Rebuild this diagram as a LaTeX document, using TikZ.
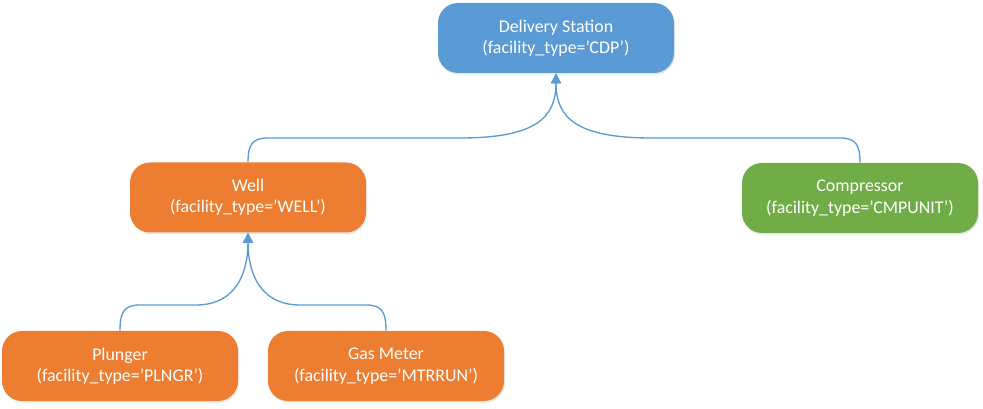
\documentclass[tikz,border=0pt]{standalone}
\usepackage{fontspec}
\setmainfont{Carlito}
\usetikzlibrary{arrows.meta,shadows}
\definecolor{cdpblue}{RGB}{91,155,213}
\definecolor{wellorange}{RGB}{237,125,49}
\definecolor{compgreen}{RGB}{112,173,71}
\begin{document}
\begin{tikzpicture}[x=0.75pt,y=0.75pt,yscale=-1,xscale=1,
  facility/.style={rounded corners=15pt,minimum width=177pt,minimum height=52.5pt,
    draw=none,text=white,align=center,inner sep=0.75pt,
    font=\fontsize{13.4}{16}\selectfont,
    drop shadow={opacity=0.18,shadow xshift=0.8pt,shadow yshift=-1.2pt}},
  link/.style={draw=cdpblue,line width=1pt,-{Triangle[width=7.5pt,length=7.5pt]}}]
\useasboundingbox (0,0) rectangle (983,409);

% Nodes
\node [facility,fill=cdpblue] (cdp) at (556,38) {Delivery Station\\(facility\_type=’CDP’)};
\node [facility,fill=wellorange] (well) at (248,197.5) {Well\\(facility\_type=’WELL’)};
\node [facility,fill=compgreen] (comp) at (860,198) {Compressor\\(facility\_type=’CMPUNIT’)};
\node [facility,fill=wellorange] (plunger) at (120,366) {Plunger\\(facility\_type=’PLNGR’)};
\node [facility,fill=wellorange] (meter) at (386,366) {Gas Meter\\(facility\_type=’MTRRUN’)};

% Connectors
\draw [link] (well.north) .. controls (248,145) and (252,138) .. (268,138) -- (460,138) .. controls +(75,0) and +(0,45) .. (cdp.south);
\draw [link] (comp.north) .. controls (860,145) and (856,138) .. (840,138) -- (652,138) .. controls +(-75,0) and +(0,45) .. (cdp.south);
\draw [link] (plunger.north) .. controls (120,312) and (124,305) .. (140,305) -- (196,305) .. controls +(40,0) and +(0,40) .. (well.south);
\draw [link] (meter.north) .. controls (386,312) and (382,305) .. (366,305) -- (300,305) .. controls +(-40,0) and +(0,40) .. (well.south);

\end{tikzpicture}
\end{document}
